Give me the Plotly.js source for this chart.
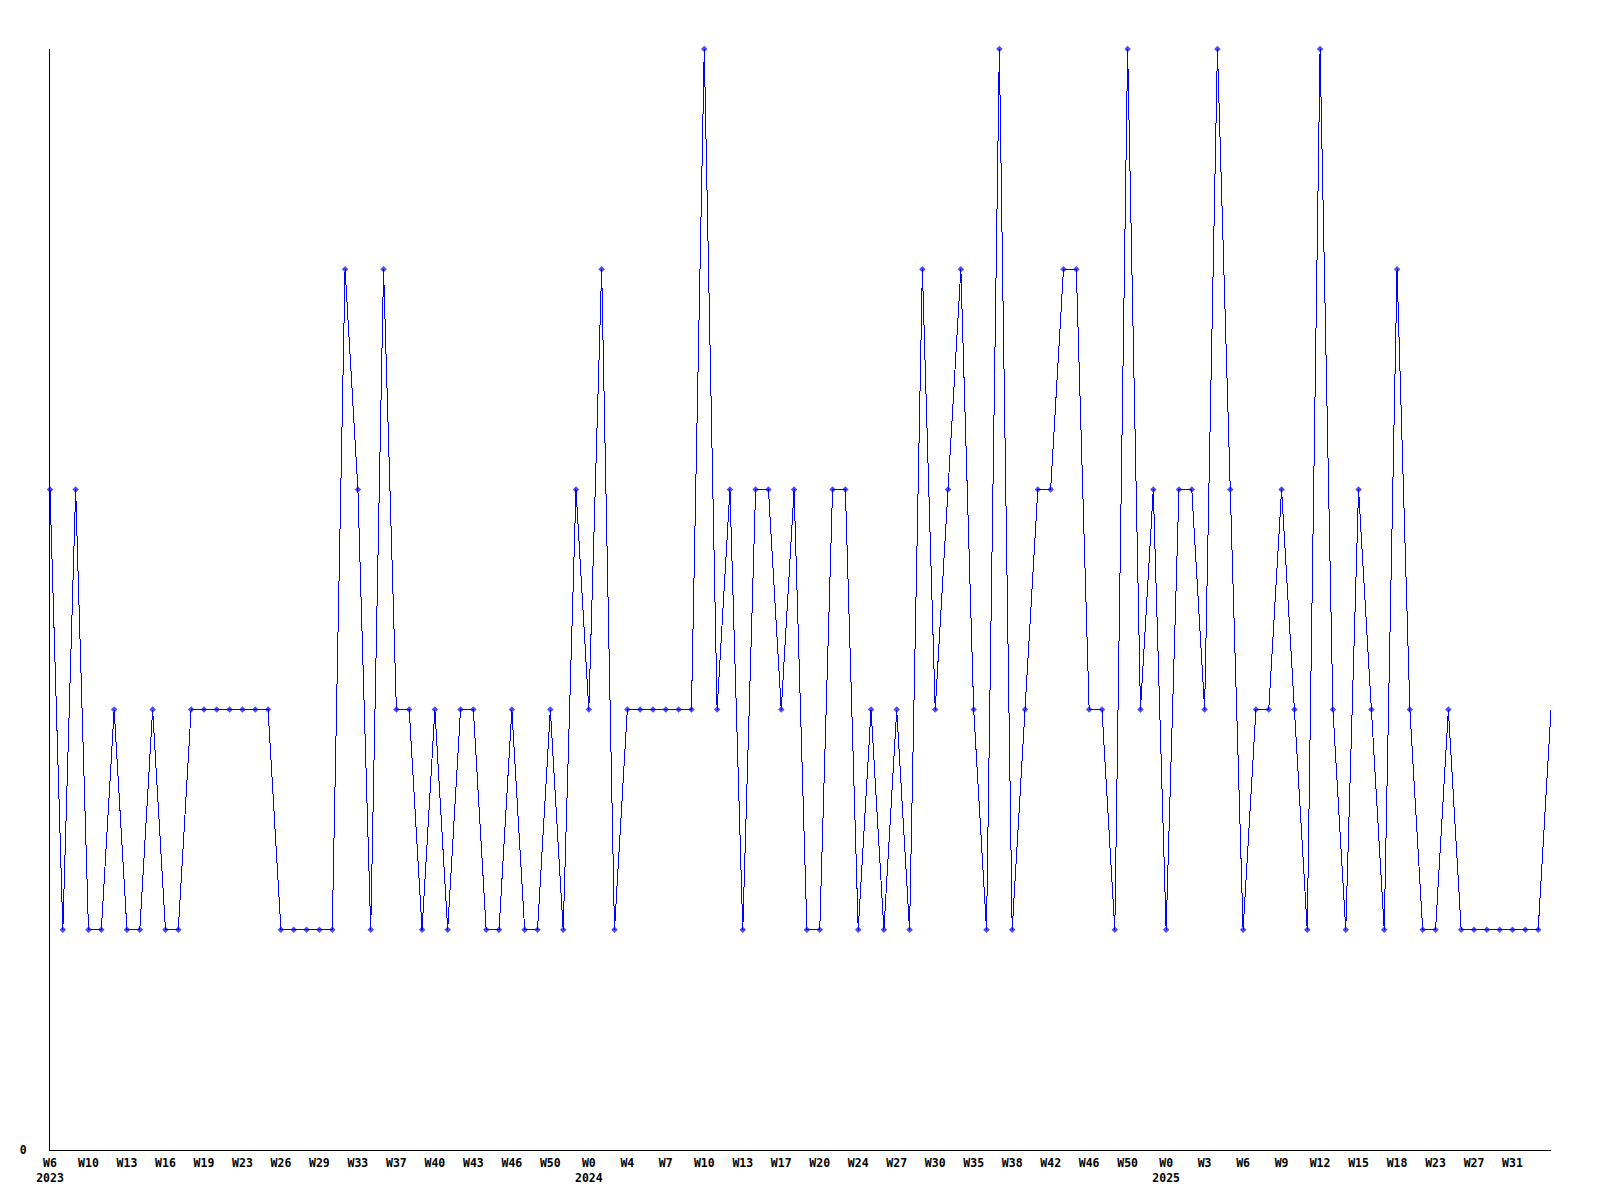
<!DOCTYPE html>
<html>
<head>
<meta charset="utf-8">
<script src="https://cdn.plot.ly/plotly-3.0.1.min.js"></script>
<style>
  html, body { margin: 0; padding: 0; background: #ffffff; }
  #chart { width: 1600px; height: 1200px; }
  #chart .scatterlayer path.js-line { shape-rendering: crispEdges; }
</style>
</head>
<body>
<div id="chart"></div>
<script>
// Weekly values, one per point (118 points)
const values = [
  3, 1, 3, 1, 1, 2, 1, 1, 2, 1,
  1, 2, 2, 2, 2, 2, 2, 2, 1, 1,
  1, 1, 1, 4, 3, 1, 4, 2, 2, 1,
  2, 1, 2, 2, 1, 1, 2, 1, 1, 2,
  1, 3, 2, 4, 1, 2, 2, 2, 2, 2,
  2, 5, 2, 3, 1, 3, 3, 2, 3, 1,
  1, 3, 3, 1, 2, 1, 2, 1, 4, 2,
  3, 4, 2, 1, 5, 1, 2, 3, 3, 4,
  4, 2, 2, 1, 5, 2, 3, 1, 3, 3,
  2, 5, 3, 1, 2, 2, 3, 2, 1, 5,
  2, 1, 3, 2, 1, 4, 2, 1, 1, 2,
  1, 1, 1, 1, 1, 1, 1, 2
];

// Tick labels, one on every third point
const tickLabels = [
  "W6<br>2023", "W10", "W13", "W16", "W19", "W23", "W26", "W29", "W33", "W37",
  "W40", "W43", "W46", "W50",
  "W0<br>2024", "W4", "W7", "W10", "W13", "W17", "W20", "W24", "W27", "W30",
  "W35", "W38", "W42", "W46", "W50",
  "W0<br>2025", "W3", "W6", "W9", "W12", "W15", "W18", "W23", "W27", "W31"
];
const tickEvery = 3;

const xs = values.map((v, i) => i);
const tickVals = tickLabels.map((t, i) => i * tickEvery);
const markerSizes = values.map((v, i) => (i === values.length - 1 ? 0 : 5));

const font = { family: "DejaVu Sans Mono, monospace", size: 11.5, color: "#000000", weight: "bold" };

const trace = {
  type: "scatter",
  mode: "lines+markers",
  x: xs,
  y: values,
  line: { color: "#0000ff", width: 1 },
  marker: { color: "#0000ff", symbol: "diamond", size: markerSizes, line: { width: 0 } },
  cliponaxis: false,
  hoverinfo: "skip"
};

const layout = {
  width: 1600,
  height: 1200,
  margin: { l: 50, r: 49, t: 49, b: 50, pad: 0 },
  paper_bgcolor: "#ffffff",
  plot_bgcolor: "#ffffff",
  showlegend: false,
  font: font,
  xaxis: {
    range: [0, values.length - 1],
    tickmode: "array",
    tickvals: tickVals,
    ticktext: tickLabels,
    ticks: "",
    showgrid: false,
    zeroline: false,
    showline: true,
    linecolor: "#000000",
    linewidth: 1,
    tickfont: font,
    ticklabelstandoff: 2
  },
  yaxis: {
    range: [0, 5],
    tickmode: "array",
    tickvals: [0],
    ticktext: ["0"],
    ticks: "",
    showgrid: false,
    zeroline: false,
    showline: true,
    linecolor: "#000000",
    linewidth: 1,
    tickfont: font,
    ticklabelstandoff: 20
  }
};

Plotly.newPlot("chart", [trace], layout, { staticPlot: true, displayModeBar: false });
</script>
</body>
</html>
